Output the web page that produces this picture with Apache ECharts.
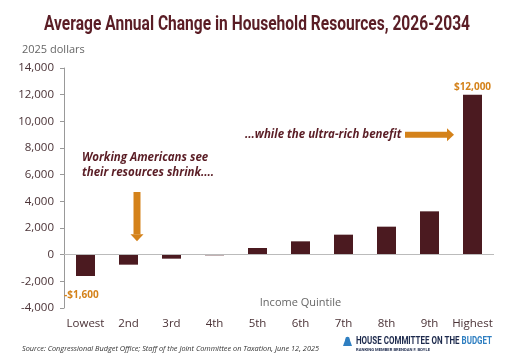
<!DOCTYPE html>
<html><head><meta charset="utf-8">
<script src="https://cdn.jsdelivr.net/npm/echarts@6/dist/echarts.min.js"></script>
<style>html,body{margin:0;padding:0;background:#fff}#c{width:510px;height:356px}</style>
</head><body><div id="c"></div>
<script>
const categories = ['Lowest','2nd','3rd','4th','5th','6th','7th','8th','9th','Highest'];
const values = [-1600,-750,-300,-50,500,1000,1500,2100,3250,12000];
const yTicks = {min:-4000, max:14000, interval:2000};
const labelMap = {0:'-$1,600', 9:'$12,000'};

const MAROON = '#4b1a20';
const ORANGE = '#d4821a';
const TXT = '#4a3236';
const FONT = '"Open Sans", sans-serif';

const chart = echarts.init(document.getElementById('c'), null, {renderer:'canvas'});
const option = {
  animation:false,
  backgroundColor:'#fff',
  grid:{left:64, right:16, top:68, bottom:48, containLabel:false, outerBoundsMode:'none'},
  xAxis:{
    type:'category', data:categories, position:'bottom',
    axisLine:{show:false, onZero:false}, axisTick:{show:false},
    axisLabel:{color:TXT, fontFamily:FONT, fontSize:11.5, margin:10, interval:0}
  },
  yAxis:{
    type:'value', min:yTicks.min, max:yTicks.max, interval:yTicks.interval,
    axisLine:{show:true, lineStyle:{color:'#999', width:1}},
    axisTick:{show:true, length:4, lineStyle:{color:'#999'}},
    splitLine:{show:false},
    axisLabel:{color:TXT, fontFamily:FONT, fontSize:11.5, margin:10,
      formatter:v=>v.toLocaleString('en-US')}
  },
  series:[{
    type:'bar', data:values, barWidth:19,
    itemStyle:{color:MAROON},
    label:{show:true, fontFamily:FONT, fontWeight:'bold', fontSize:10, color:ORANGE,
      formatter:p=>labelMap[p.dataIndex]||'',
      position:'top', distance:3},
    labelLayout:function(p){
      if(p.dataIndex===0){ return {x:p.rect.x-12, y:p.rect.y+p.rect.height+14, align:'left'}; }
      return {};
    },
    markLine:{silent:true, symbol:'none', label:{show:false},
      lineStyle:{color:'#bbb', type:'solid', width:1},
      data:[{yAxis:0}]}
  }]
};
chart.setOption(option);

const mctx = document.createElement('canvas').getContext('2d');
function textW(text, font){ mctx.font = font; return mctx.measureText(text).width; }
function fitScale(text, font, target){ return target / textW(text, font); }

function px(ci, v){ return chart.convertToPixel({gridIndex:0}, [ci, v]); }
const p2 = px(1, 4700), p2b = px(1, 1000);
const pH = px(9, 9000);
const ax = p2[0] + 8.5, aTop = p2[1], aBot = p2b[1];
const hy = pH[1];
const g = [];

const TITLE = 'Average Annual Change in Household Resources, 2026-2034';
const titleFont = 'bold 21px Roboto, sans-serif';
g.push({type:'text', x:44, y:25, scaleX:fitScale(TITLE, titleFont, 426), style:{text:TITLE, fill:'#5a1d25', font:titleFont, verticalAlign:'middle'}});

g.push({type:'text', x:22, y:50, style:{text:'2025 dollars', fill:'#666', font:'11px '+FONT, verticalAlign:'middle'}});
g.push({type:'text', x:82, y:165, style:{text:'Working Americans see\ntheir resources shrink....', fill:'#5a1d25', font:'italic bold 11.5px '+FONT, lineHeight:15, verticalAlign:'middle'}});
g.push({type:'rect', shape:{x:ax-3.5, y:aTop, width:7, height:aBot-aTop-7}, style:{fill:ORANGE}});
g.push({type:'polygon', shape:{points:[[ax-6.5,aBot-7],[ax+6.5,aBot-7],[ax,aBot]]}, style:{fill:ORANGE}});
g.push({type:'text', x:245, y:hy, style:{text:'...while the ultra-rich benefit', fill:'#5a1d25', font:'italic bold 11.5px '+FONT, verticalAlign:'middle'}});
g.push({type:'rect', shape:{x:405, y:hy-3, width:42, height:6}, style:{fill:ORANGE}});
g.push({type:'polygon', shape:{points:[[447,hy-6.5],[447,hy+6.5],[454,hy]]}, style:{fill:ORANGE}});

const pq = px(4.6, -3600);
g.push({type:'text', x:pq[0], y:303, style:{text:'Income Quintile', fill:'#666', font:'11px '+FONT, align:'center', verticalAlign:'middle'}});

const SRC = 'Source: Congressional Budget Office; Staff of the Joint Committee on Taxation, June 12, 2025';
const srcFont = 'italic 8px '+FONT;
g.push({type:'text', x:22, y:349, scaleX:fitScale(SRC, srcFont, 297), style:{text:SRC, fill:'#333', font:srcFont, verticalAlign:'middle'}});

// logo
g.push({type:'polygon', shape:{points:[[345.5,339],[349.5,339],[352,346],[343,346]]}, style:{fill:'#2f7fc1'}});
g.push({type:'circle', shape:{cx:347.5, cy:339, r:2.2}, style:{fill:'#2f7fc1'}});
const LOGO_A = 'HOUSE COMMITTEE ON THE ', LOGO_B = 'BUDGET';
const logoFont = 'bold 11px Roboto, sans-serif';
const ls = fitScale(LOGO_A + LOGO_B, logoFont, 136);
g.push({type:'text', x:356, y:341.5, scaleX:ls, style:{text:LOGO_A, fill:'#1d2a4d', font:logoFont, verticalAlign:'middle'}});
g.push({type:'text', x:356 + ls*textW(LOGO_A, logoFont), y:341.5, scaleX:ls, style:{text:LOGO_B, fill:'#2f7fc1', font:logoFont, verticalAlign:'middle'}});
const SUB = 'RANKING MEMBER BRENDAN F. BOYLE';
const subFont = 'bold 4px Roboto, sans-serif';
g.push({type:'text', x:356, y:349.5, scaleX:fitScale(SUB, subFont, 74), style:{text:SUB, fill:'#1d2a4d', font:subFont, verticalAlign:'middle'}});
chart.setOption({graphic:g});
</script></body></html>
